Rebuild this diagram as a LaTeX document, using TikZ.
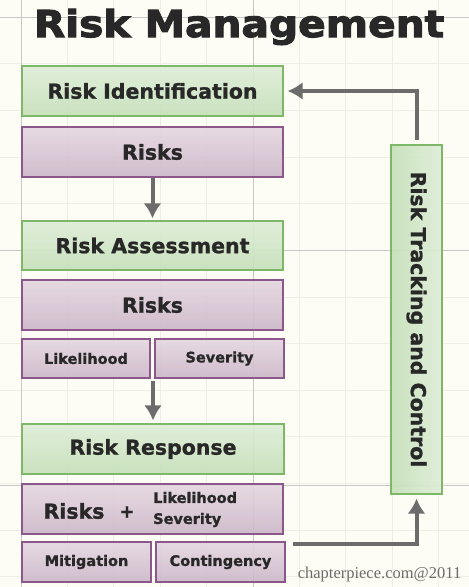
\documentclass[tikz,border=0pt]{standalone}
\usepackage{fontspec}
\setmainfont{DejaVu Sans}
\newfontfamily\titlefont[FakeBold=3,FakeStretch=1.1]{DejaVu Sans Bold}
\newfontfamily\boxfont[FakeBold=1.2]{DejaVu Sans Bold}
\newfontfamily\markfont{Liberation Serif}
\usetikzlibrary{arrows.meta}
\definecolor{paper}{RGB}{253,253,246}
\definecolor{gridfaint}{RGB}{238,238,226}
\definecolor{gridstrong}{RGB}{200,200,200}
\definecolor{greenline}{RGB}{125,183,104}
\definecolor{greentop}{RGB}{222,237,215}
\definecolor{greenbot}{RGB}{196,223,184}
\definecolor{purpleline}{RGB}{140,88,140}
\definecolor{purpletop}{RGB}{228,214,224}
\definecolor{purplebot}{RGB}{204,182,200}
\definecolor{arrowgray}{RGB}{108,108,108}
\definecolor{inkgray}{RGB}{40,40,40}

\begin{document}
\begin{tikzpicture}[x=1pt, y=-1pt,
			greenbox/.style={draw=greenline, line width=1.3pt, top color=greentop, bottom color=greenbot, fill opacity=0.9, text opacity=1, inner sep=0pt, text=inkgray, font=\boxfont\fontsize{20.5}{24}\selectfont},
			purplebox/.style={draw=purpleline, line width=1.3pt, top color=purpletop, bottom color=purplebot, fill opacity=0.9, text opacity=1, inner sep=0pt, text=inkgray, font=\boxfont\fontsize{20.5}{24}\selectfont},
			smallbox/.style={purplebox, minimum width=128pt, minimum height=39pt, font=\boxfont\fontsize{14.5}{17}\selectfont},
			arr/.style={->, line width=4pt, draw=arrowgray},
			>={Latex[length=15pt,width=18pt]}]
			% paper and grid
			\fill[paper] (0,0) rectangle (469,587);
			\useasboundingbox (0,0) rectangle (469,587);
			\foreach \gx in {0,...,9} \draw[gridfaint, line width=0.8pt] (21+46.4*\gx,0) -- (21+46.4*\gx,587);
			\foreach \gy in {0,...,12} \draw[gridfaint, line width=0.8pt] (0,17+46.65*\gy) -- (469,17+46.65*\gy);
			\foreach \gx in {21,253} \draw[gridstrong, line width=0.8pt] (\gx,0) -- (\gx,587);
			\foreach \gy in {17,250,485} \draw[gridstrong, line width=0.8pt] (0,\gy) -- (469,\gy);
			% title
			\node[anchor=base, text=inkgray, font=\titlefont\fontsize{37}{40}\selectfont] (title) at (239,37) {Risk Management};
			% left column
			\node[greenbox, minimum width=261pt, minimum height=50pt] (ident) at (152.5,91) {Risk Identification};
			\node[purplebox, minimum width=261pt, minimum height=50pt] (risks1) at (152.5,152) {Risks};
			\node[greenbox, minimum width=261pt, minimum height=49pt] (assess) at (152.5,245.5) {Risk Assessment};
			\node[purplebox, minimum width=261pt, minimum height=50pt] (risks2) at (152.5,305) {Risks};
			\node[smallbox] (like) at (86,358.5) {Likelihood};
			\node[smallbox, minimum width=129pt] (sev) at (219.5,358.5) {Severity};
			\node[greenbox, minimum width=262pt, minimum height=50pt] (response) at (153,449) {Risk Response};
			\node[purplebox, minimum width=261pt, minimum height=50pt] (risks3) at (152.5,509) {};
			\node[text=inkgray, font=\boxfont\fontsize{20.5}{24}\selectfont] (risks3a) at (74,511) {Risks};
			\node[text=inkgray, font=\boxfont\fontsize{18}{20}\selectfont] (risks3b) at (127,512) {+};
			\node[anchor=west, align=left, inner sep=0pt, text=inkgray, font=\boxfont\fontsize{14.5}{21}\selectfont] (risks3c) at (153,509.5) {Likelihood\\Severity};
			\node[smallbox, minimum width=129pt, minimum height=40pt] (mitig) at (86.5,562) {Mitigation};
			\node[smallbox, minimum width=129pt, minimum height=40pt] (cont) at (220.5,562) {Contingency};
			% right column
			\node[greenbox, left color=greenbot, right color=greentop, minimum width=51pt, minimum height=349pt] (track) at (416.5,319.5) {};
			\node[rotate=-90, text=inkgray, font=\boxfont\fontsize{20.5}{24}\selectfont] (tracktext) at (track.center) {Risk Tracking and Control};
			% arrows
			\draw[arr, shorten >=2pt] (risks1.south) -- (assess.north);
			\draw[arr, shorten <=2pt, shorten >=3pt] (response.north |- like.south) -- (response.north);
			\coordinate (contout) at (293,544);
			\draw[arr, shorten >=4pt] (contout) -| (track.south);
			\draw[arr, shorten <=4pt, shorten >=4pt] (track.north) |- (ident.east);
			% watermark
			\node[text=arrowgray, font=\markfont\fontsize{16.5}{18}\selectfont] (mark) at (379.5,575) {chapterpiece.com@2011};
		\end{tikzpicture}
\end{document}
